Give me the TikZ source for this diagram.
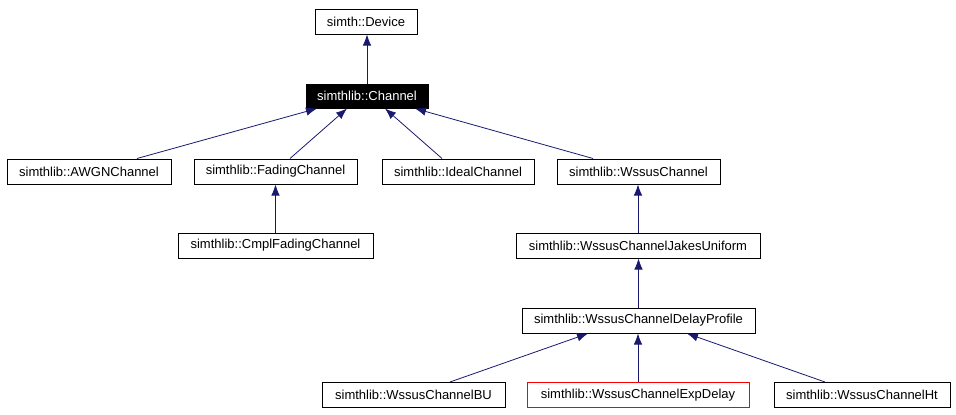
\documentclass[tikz,border=0pt]{standalone}
\usepackage{fontspec}
\setmainfont{Liberation Sans}
\usetikzlibrary{positioning,arrows.meta}
\definecolor{edgeblue}{HTML}{191970}

\begin{document}
\begin{tikzpicture}[x=1pt,y=-1pt,
  cls/.style={draw=black, line width=1pt, fill=white, minimum height=25pt,
    inner sep=0pt, font=\fontsize{13}{15}\selectfont},
  inh/.style={draw=edgeblue, line width=0.8pt, -{Latex[length=11pt,width=8.5pt]}}]
\useasboundingbox (0,0) rectangle (956,415);
\node[cls, minimum width=102pt] (device) at (366,21.5) {simth::Device};
\node[cls, minimum width=122pt, minimum height=24pt, fill=black, text=white] (channel) at (367,96) {simthlib::Channel};
\node[cls, minimum width=164pt] (awgn) at (89,171.5) {simthlib::AWGNChannel};
\node[cls, minimum width=163pt] (fading) at (275.5,171.5) {simthlib::FadingChannel};
\node[cls, minimum width=152pt] (ideal) at (458,171.5) {simthlib::IdealChannel};
\node[cls, minimum width=163pt] (wssus) at (638.5,171.5) {simthlib::WssusChannel};
\node[cls, minimum width=195pt] (cmpl) at (275.5,245.5) {simthlib::CmplFadingChannel};
\node[cls, minimum width=244pt] (jakes) at (638,245.5) {simthlib::WssusChannelJakesUniform};
\node[cls, minimum width=233pt] (delay) at (638.5,320.5) {simthlib::WssusChannelDelayProfile};
\node[cls, minimum width=183pt] (bu) at (413.5,395) {simthlib::WssusChannelBU};
\node[cls, minimum width=222pt, draw=red] (expdelay) at (638,395) {simthlib::WssusChannelExpDelay};
\node[cls, minimum width=176pt] (ht) at (862,395) {simthlib::WssusChannelHt};

\draw[inh] (channel.north) -- (channel.north |- device.south);
\draw[inh] ([xshift=48]awgn.north) -- ([xshift=-50]channel.south);
\draw[inh] ([xshift=14.5]fading.north) -- ([xshift=-20]channel.south);
\draw[inh] ([xshift=-16]ideal.north) -- ([xshift=18]channel.south);
\draw[inh] ([xshift=-45.5]wssus.north) -- ([xshift=48]channel.south);
\draw[inh] (cmpl.north) -- (cmpl.north |- fading.south);
\draw[inh] (jakes.north) -- (jakes.north |- wssus.south);
\draw[inh] (delay.north) -- (delay.north |- jakes.south);
\draw[inh] ([xshift=36.5]bu.north) -- ([xshift=-50.5]delay.south);
\draw[inh] (expdelay.north) -- (expdelay.north |- delay.south);
\draw[inh] ([xshift=-37]ht.north) -- ([xshift=48.5]delay.south);
\end{tikzpicture}
\end{document}
